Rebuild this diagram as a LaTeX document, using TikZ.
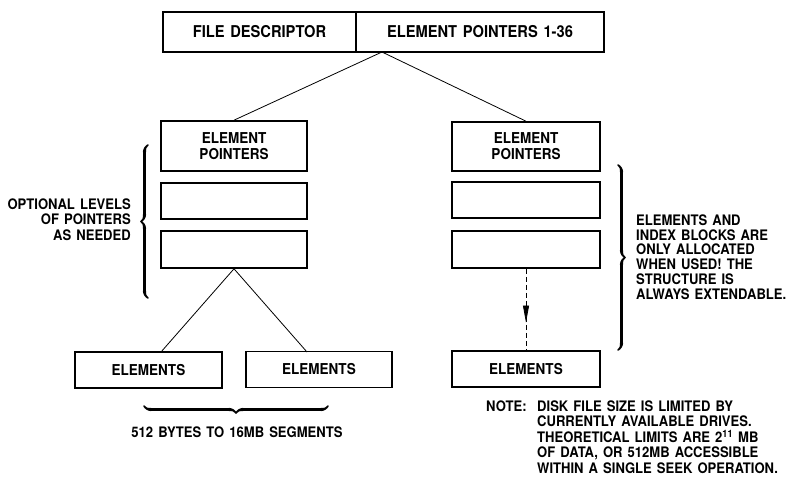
\documentclass[tikz,border=0pt]{standalone}
\usepackage{fontspec}
\setmainfont{TeX Gyre Heros}[WordSpace=1.4, FakeStretch=0.9]
\usetikzlibrary{decorations.pathreplacing,decorations.markings,arrows.meta,calligraphy}
\begin{document}
\begin{tikzpicture}[x=1pt,y=-1pt,
  box/.style={draw, line width=1.6pt, inner sep=0pt, align=center,
    font=\bfseries\fontsize{15}{16}\selectfont},
  topbox/.style={box, minimum height=40pt, font=\bfseries\fontsize{16.3}{18}\selectfont},
  conn/.style={line width=0.8pt},
  note/.style={inner sep=0pt, font=\bfseries\fontsize{14.5}{15.5}\selectfont},
  brc/.style={decorate, decoration={calligraphic brace, amplitude=7pt}, line width=3.2pt}
]
\useasboundingbox (0,0) rectangle (795,479);

% top record
\node[topbox, minimum width=193pt] (fd) at (259.5,32) {FILE DESCRIPTOR};
\node[topbox, minimum width=248pt] (ep0) at (480,32) {ELEMENT POINTERS 1-36};

% left column
\node[box, minimum width=146pt, minimum height=50pt] (lp1) at (234,146) {ELEMENT\\POINTERS};
\node[box, minimum width=146pt, minimum height=36pt] (lp2) at (234,201) {};
\node[box, minimum width=146pt, minimum height=37pt] (lp3) at (234,249.5) {};

% right column
\node[box, minimum width=148pt, minimum height=49pt] (rp1) at (526,146.5) {ELEMENT\\POINTERS};
\node[box, minimum width=148pt, minimum height=36pt] (rp2) at (526,200) {};
\node[box, minimum width=148pt, minimum height=37pt] (rp3) at (526,249.5) {};

% element blocks
\node[box, minimum width=147pt, minimum height=36pt] (el1) at (148.5,370) {ELEMENTS};
\node[box, minimum width=146pt, minimum height=36pt] (el2) at (319,369.5) {ELEMENTS};
\node[box, minimum width=148pt, minimum height=36pt] (el3) at (526,369) {ELEMENTS};

% connectors
\coordinate (split) at (382,52);
\coordinate (e1top) at (161,352);
\coordinate (e2top) at (307,352);
\draw[conn] (split) -- (lp1.north);
\draw[conn] (split) -- (rp1.north);
\draw[conn] (lp3.south) -- (e1top);
\draw[conn] (lp3.south) -- (e2top);
\draw[conn, dash pattern=on 5pt off 3pt,
  postaction={decorate, decoration={markings,
    mark=at position 0.66 with {\arrow{Triangle[length=17pt,width=6pt]}}}}]
  (rp3.south) -- (el3.north);

% braces
\draw[brc] (148,298) -- (148,145);
\draw[brc] (618,165) -- (618,350);
\draw[brc] (328,406) -- (144,406);

% annotations
\node[note, anchor=east, align=right] (opt) at (131,219.5)
  {OPTIONAL LEVELS\\OF POINTERS\\AS NEEDED};
\node[note, anchor=west, align=left, font=\bfseries\fontsize{14.5}{14.8}\selectfont] (alloc) at (636,257)
  {ELEMENTS AND\\INDEX BLOCKS ARE\\ONLY ALLOCATED\\WHEN USED! THE\\STRUCTURE IS\\ALWAYS EXTENDABLE.};
\node[note] (seg) at (237,432) {512 BYTES TO 16MB SEGMENTS};
\node[note, anchor=west] (notehd) at (486,406) {NOTE:};
\node[note, anchor=west, align=left] (notetx) at (537,437)
  {DISK FILE SIZE IS LIMITED BY\\CURRENTLY AVAILABLE DRIVES.\\THEORETICAL LIMITS ARE 2\textsuperscript{11} MB\\OF DATA, OR 512MB ACCESSIBLE\\WITHIN A SINGLE SEEK OPERATION.};
\end{tikzpicture}
\end{document}
